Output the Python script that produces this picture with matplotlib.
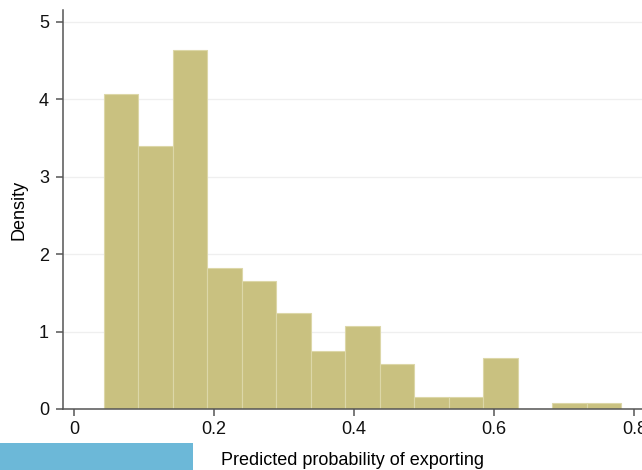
import numpy as np
import matplotlib.pyplot as plt
from matplotlib.patches import Rectangle

plt.rcParams['font.family'] = ['Liberation Sans', 'DejaVu Sans']

#---Histogram of predicted export probabilities (densities per bin)
bin_start = 0.043
bin_width = 0.0492
density = [4.06, 3.40, 4.63, 1.82, 1.65, 1.24, 0.75, 1.07, 0.58,
           0.16, 0.16, 0.66, 0.0, 0.08, 0.08]
yticks = [0, 1, 2, 3, 4, 5]
xticks = [0, 0.2, 0.4, 0.6, 0.8]
xticklabels = ['0', '0.2', '0.4', '0.6', '0.8']

edges = bin_start + bin_width * np.arange(len(density))

fig = plt.figure(figsize=(6.42, 4.70), dpi=100)
ax = fig.add_axes([0.098, 0.1298, 0.902, 0.849])

ax.bar(edges, density, width=bin_width, align='edge',
       color='#C9C180', edgecolor='#DCD7A8', linewidth=0.8, zorder=2)

ax.set_xlim(-0.0157, 0.811)
ax.set_ylim(0, 5.15)
ax.set_xticks(xticks)
ax.set_xticklabels(xticklabels)
ax.set_yticks(yticks)
ax.yaxis.grid(True, color='#EFEFEF', linewidth=0.9, zorder=0)
ax.set_axisbelow(True)

for side in ['top', 'right']:
    ax.spines[side].set_visible(False)
for side in ['left', 'bottom']:
    ax.spines[side].set_color('#555555')
    ax.spines[side].set_linewidth(1.1)

ax.tick_params(axis='both', direction='out', length=5, width=1.1,
               color='#555555', labelsize=13, labelcolor='#111111')
ax.tick_params(axis='x', pad=4)
ax.tick_params(axis='y', pad=5)

ax.set_xlabel('Predicted probability of exporting', fontsize=13, labelpad=10)
ax.set_ylabel('Density', fontsize=13, labelpad=8)

#---Blue strip along the lower left edge
fig.patches.append(Rectangle((0, 0), 193 / 642, 27 / 470, transform=fig.transFigure,
                             facecolor='#6CB8D8', edgecolor='none', zorder=5))

plt.savefig('out.png', dpi=100)
